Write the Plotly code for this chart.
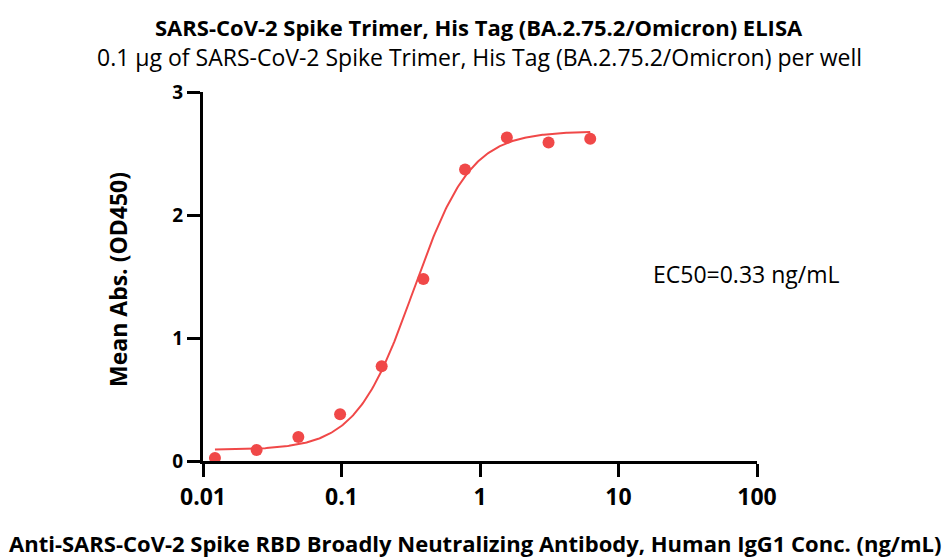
import numpy as np
import plotly.graph_objects as go

# Data
conc = [0.0122, 0.0244, 0.0488, 0.0977, 0.195, 0.39, 0.78, 1.5625, 3.125, 6.25]
od450 = [0.024, 0.09, 0.195, 0.38, 0.77, 1.48, 2.37, 2.63, 2.59, 2.62]

# 4PL fit parameters
fit_bottom = 0.09
fit_top = 2.68
fit_ec50 = 0.33
fit_hill = 2.1

x_ticks = [0.01, 0.1, 1, 10, 100]
x_tick_labels = ["0.01", "0.1", "1", "10", "100"]
y_ticks = [0, 1, 2, 3]

RED = "#F04848"
FONT = "Open Sans"
OFF = 8  # page body offset in the browser

xf = np.logspace(np.log10(conc[0]), np.log10(conc[-1]), 300)
yf = fit_bottom + (fit_top - fit_bottom) / (1 + (fit_ec50 / xf) ** fit_hill)

fig = go.Figure()
fig.add_trace(go.Scatter(x=xf, y=yf, mode="lines", line=dict(color=RED, width=2),
                         hoverinfo="skip", showlegend=False, cliponaxis=False))
fig.add_trace(go.Scatter(x=conc, y=od450, mode="markers",
                         marker=dict(color=RED, size=12), showlegend=False, cliponaxis=False))

W, H = 951, 559
# plot area in reference pixels: x 203..757, y 92..461
ml, mt = 203 - OFF, 92 - OFF
mr, mb = W - (757 - OFF), H - (461 - OFF)
fig.update_layout(
    width=W, height=H,
    margin=dict(l=ml, r=mr, t=mt, b=mb),
    plot_bgcolor="white", paper_bgcolor="white",
    font=dict(family=FONT, color="black"),
    xaxis=dict(type="log", range=[-2, 2], tickvals=x_ticks, ticktext=x_tick_labels,
               showline=True, linecolor="black", linewidth=3, ticks="outside",
               ticklen=13, tickwidth=3, tickcolor="black", showgrid=False, zeroline=False,
               tickfont=dict(size=23, family=FONT, color="black", weight="bold")),
    yaxis=dict(range=[0, 3], tickvals=y_ticks, showline=True, linecolor="black", linewidth=3,
               ticks="outside", ticklen=13, tickwidth=3, tickcolor="black",
               showgrid=False, zeroline=False,
               tickfont=dict(size=19, family=FONT, color="black", weight="bold")),
)

def ann(text, px, py, size, angle=0):
    x = (px - OFF - ml) / (W - ml - mr)
    y = 1 - (py - OFF - mt) / (H - mt - mb)
    fig.add_annotation(text=text, x=x, y=y, xref="paper", yref="paper",
                       xanchor="center", yanchor="middle", textangle=angle,
                       showarrow=False, font=dict(size=size, family=FONT, color="black"))

ann("<b>SARS-CoV-2 Spike Trimer, His Tag (BA.2.75.2/Omicron) ELISA</b>", 479, 27, 22)
ann("0.1 µg of SARS-CoV-2 Spike Trimer, His Tag (BA.2.75.2/Omicron) per well", 479, 57, 23)
ann("EC50=0.33 ng/mL", 746, 274, 23)
ann("<b>Mean Abs. (OD450)</b>", 118, 280, 23, -90)
ann("<b>Anti-SARS-CoV-2 Spike RBD Broadly Neutralizing Antibody, Human IgG1 Conc. (ng/mL)</b>",
    475, 543, 22)

fig.write_html("out.html")
